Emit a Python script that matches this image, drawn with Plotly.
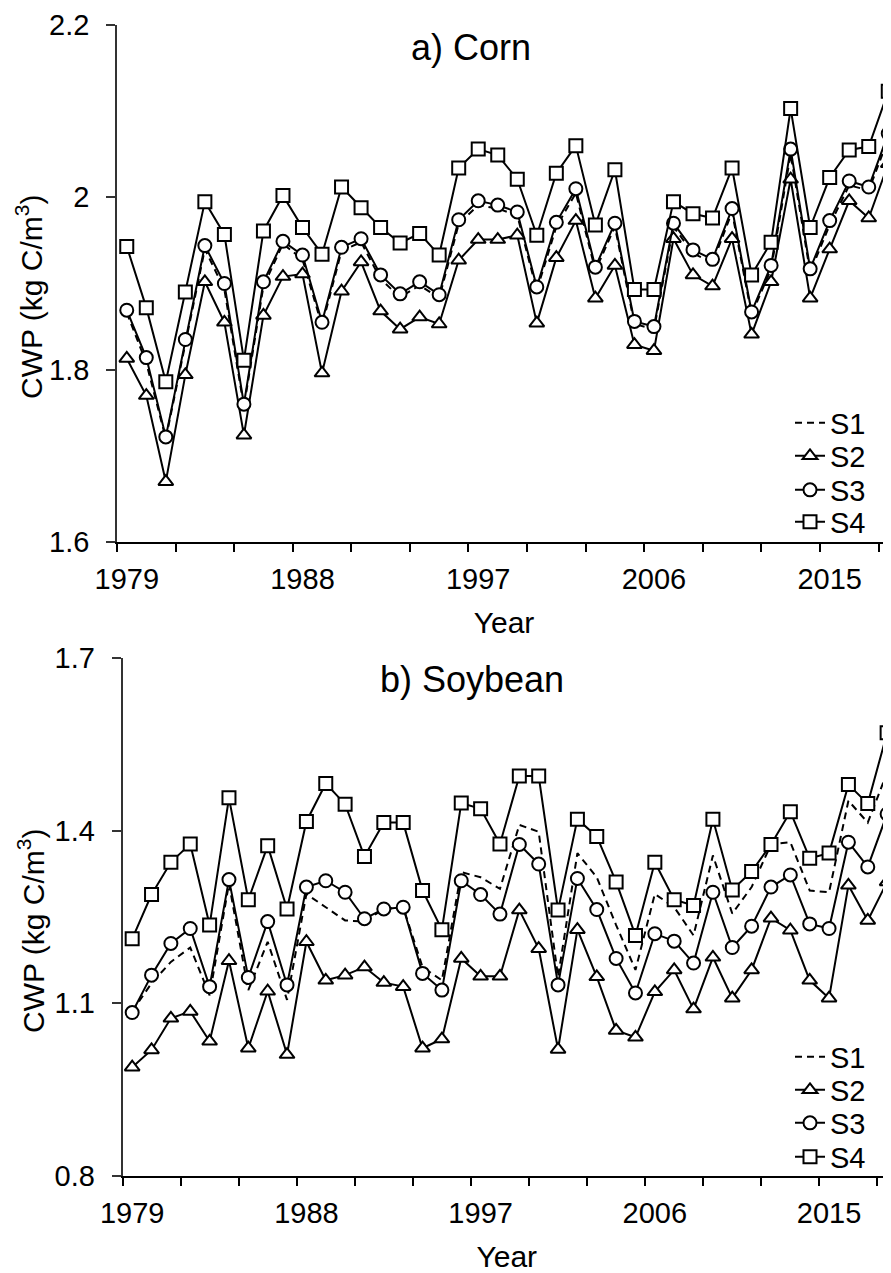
import plotly.graph_objects as go
import numpy as np

years = list(range(1979, 2019))

corn_s1 = [1.866,1.808,1.720,1.829,1.940,1.893,1.757,1.897,1.946,1.928,1.851,1.938,1.948,1.905,1.884,1.898,1.883,1.969,1.991,1.987,
           1.979,1.892,1.966,2.005,1.915,1.966,1.853,1.847,1.966,1.935,1.924,1.983,1.864,1.917,2.050,1.913,1.968,2.014,2.008,2.068]
corn_s2 = [1.813,1.770,1.670,1.794,1.902,1.855,1.724,1.863,1.908,1.911,1.796,1.891,1.925,1.868,1.847,1.861,1.853,1.927,1.951,1.951,
           1.956,1.854,1.930,1.973,1.883,1.921,1.829,1.822,1.952,1.910,1.897,1.952,1.841,1.902,2.021,1.883,1.940,1.996,1.976,2.039]
corn_s3 = [1.869,1.814,1.722,1.835,1.944,1.900,1.760,1.902,1.949,1.933,1.855,1.942,1.952,1.910,1.888,1.902,1.887,1.974,1.996,1.991,
           1.983,1.896,1.971,2.010,1.919,1.970,1.856,1.850,1.970,1.939,1.928,1.987,1.867,1.921,2.056,1.917,1.973,2.019,2.012,2.074]
corn_s4 = [1.943,1.872,1.786,1.890,1.995,1.957,1.811,1.961,2.002,1.965,1.934,2.012,1.988,1.965,1.947,1.958,1.933,2.034,2.056,2.049,
           2.021,1.956,2.028,2.060,1.968,2.032,1.893,1.893,1.995,1.981,1.976,2.034,1.910,1.948,2.103,1.965,2.023,2.055,2.059,2.123]

soy_s1 = [1.086,1.135,1.172,1.197,1.114,1.308,1.123,1.207,1.106,1.290,1.267,1.244,1.242,1.264,1.267,1.163,1.140,1.328,1.319,1.299,
          1.410,1.398,1.146,1.361,1.319,1.236,1.158,1.290,1.267,1.218,1.357,1.256,1.302,1.376,1.380,1.296,1.293,1.452,1.414,1.501]
soy_s2 = [0.989,1.019,1.074,1.086,1.034,1.174,1.022,1.121,1.011,1.207,1.140,1.149,1.163,1.136,1.129,1.022,1.038,1.178,1.147,1.147,
          1.262,1.195,1.020,1.228,1.146,1.053,1.041,1.120,1.158,1.090,1.180,1.109,1.158,1.248,1.227,1.140,1.109,1.305,1.244,1.311]
soy_s3 = [1.084,1.149,1.204,1.230,1.129,1.315,1.145,1.242,1.132,1.302,1.313,1.293,1.247,1.264,1.267,1.152,1.123,1.313,1.289,1.255,
          1.376,1.342,1.132,1.317,1.263,1.178,1.118,1.221,1.208,1.170,1.293,1.197,1.234,1.302,1.323,1.238,1.230,1.380,1.337,1.429]
soy_s4 = [1.212,1.289,1.345,1.377,1.236,1.457,1.280,1.374,1.264,1.416,1.482,1.446,1.355,1.414,1.414,1.296,1.228,1.448,1.438,1.377,
          1.495,1.495,1.262,1.420,1.390,1.311,1.218,1.345,1.280,1.270,1.420,1.297,1.329,1.376,1.433,1.352,1.361,1.480,1.447,1.570]

series_names = ["S1", "S2", "S3", "S4"]
x_tick_labels = ["1979", "1988", "1997", "2006", "2015"]
x_tick_vals = [1979, 1988, 1997, 2006, 2015]
corn_y_ticks = [1.6, 1.8, 2.0, 2.2]
corn_y_text = ["1.6", "1.8", "2", "2.2"]
soy_y_ticks = [0.8, 1.1, 1.4, 1.7]
soy_y_text = ["0.8", "1.1", "1.4", "1.7"]
y_title = "CWP (kg C/m<sup>3</sup>)"

FONT = "Arial, 'Liberation Sans', sans-serif"
OFF = 8                      # default page margin of the html body
W, H = 891 - OFF, 1273 - OFF
ML, MT, MB = 117 - OFF, 25 - OFF, 97
PW, PH = W - ML, H - MT - MB


def px_x(p):
    """reference-screen x pixel -> paper coordinate"""
    return (p - OFF - ML) / PW


def px_y(p):
    """reference-screen y pixel -> paper coordinate"""
    return (H - MB - (p - OFF)) / PH


styles = {
    "S1": dict(mode="lines", line=dict(color="black", width=2, dash="7px,5px")),
    "S2": dict(mode="lines+markers", line=dict(color="black", width=2),
               marker=dict(symbol="triangle-up", size=13, color="white", line=dict(color="black", width=2))),
    "S3": dict(mode="lines+markers", line=dict(color="black", width=2),
               marker=dict(symbol="circle", size=13, color="white", line=dict(color="black", width=2))),
    "S4": dict(mode="lines+markers", line=dict(color="black", width=2),
               marker=dict(symbol="square", size=13, color="white", line=dict(color="black", width=2))),
}

fig = go.Figure()
corn = [corn_s1, corn_s2, corn_s3, corn_s4]
soy = [soy_s1, soy_s2, soy_s3, soy_s4]
corn_legend_rows = [423, 456, 490, 522]
soy_legend_rows = [1057, 1090, 1123, 1157]

legends = {}
for k, (name, vals) in enumerate(zip(series_names, corn)):
    lg = "legend" if k == 0 else f"legend{k + 1}"
    fig.add_trace(go.Scatter(x=years, y=vals, name=name, xaxis="x", yaxis="y",
                             legend=lg, showlegend=True, **styles[name]))
    legends[lg] = corn_legend_rows[k]
for k, (name, vals) in enumerate(zip(series_names, soy)):
    lg = f"legend{k + 5}"
    fig.add_trace(go.Scatter(x=years, y=vals, name=name, xaxis="x2", yaxis="y2",
                             legend=lg, showlegend=True, **styles[name]))
    legends[lg] = soy_legend_rows[k]

minor_vals = list(np.arange(1978.5, 2019, 3))


def xaxis_cfg(left_px, right_year, standoff):
    return dict(
        domain=[px_x(left_px), 1.0],
        range=[1978.5, right_year],
        tickvals=x_tick_vals, ticktext=x_tick_labels,
        ticks="", showline=True, linecolor="black", linewidth=2,
        showgrid=False, zeroline=False, automargin=False,
        tickfont=dict(family=FONT, size=29, color="black"),
        ticklabelstandoff=10,
        minor=dict(tickvals=minor_vals, ticks="outside", ticklen=8,
                   tickwidth=2, tickcolor="black", showgrid=False),
        title=dict(text="Year", font=dict(family=FONT, size=30, color="black"), standoff=standoff),
    )


def yaxis_cfg(top_px, bottom_px, rng, tv, tt, anchor):
    return dict(
        domain=[px_y(bottom_px), px_y(top_px)],
        range=rng, tickvals=tv, ticktext=tt,
        ticks="outside", ticklen=9, tickwidth=1.5, tickcolor="#333",
        showline=True, linecolor="#333", linewidth=1.5,
        showgrid=False, zeroline=False, anchor=anchor, automargin=False,
        tickfont=dict(family=FONT, size=29, color="black"),
        ticklabelstandoff=11,
    )


layout_legends = {}
for lg, row in legends.items():
    layout_legends[lg] = dict(x=px_x(790), y=px_y(row), xanchor="left", yanchor="middle",
                              bgcolor="rgba(0,0,0,0)", borderwidth=0,
                              font=dict(family=FONT, size=29, color="black"),
                              itemwidth=30, itemclick=False, itemdoubleclick=False)


def text_ann(text, x, y, size, angle=0):
    return dict(text=text, x=px_x(x), y=px_y(y), xref="paper", yref="paper",
                showarrow=False, xanchor="center", yanchor="middle", textangle=angle,
                font=dict(family=FONT, size=size, color="black"))


fig.update_layout(
    width=W, height=H, showlegend=True,
    margin=dict(l=ML, r=0, t=MT, b=MB, pad=0, autoexpand=False),
    paper_bgcolor="white", plot_bgcolor="white",
    font=dict(family=FONT, color="black"),
    xaxis=dict(anchor="y", **xaxis_cfg(117, 2018.14, 18)),
    xaxis2=dict(anchor="y2", **xaxis_cfg(122.5, 2018.2, 21)),
    yaxis=yaxis_cfg(25, 542, [1.6, 2.2], corn_y_ticks, corn_y_text, "x"),
    yaxis2=yaxis_cfg(658, 1176, [0.8, 1.7], soy_y_ticks, soy_y_text, "x2"),
    annotations=[
        text_ann("a) Corn", 471, 47, 36),
        text_ann("b) Soybean", 472, 680, 36),
        text_ann(y_title, 29, 297, 30, -90),
        text_ann(y_title, 31, 931, 30, -90),
    ],
    **layout_legends,
)

fig.write_html("out.html")
